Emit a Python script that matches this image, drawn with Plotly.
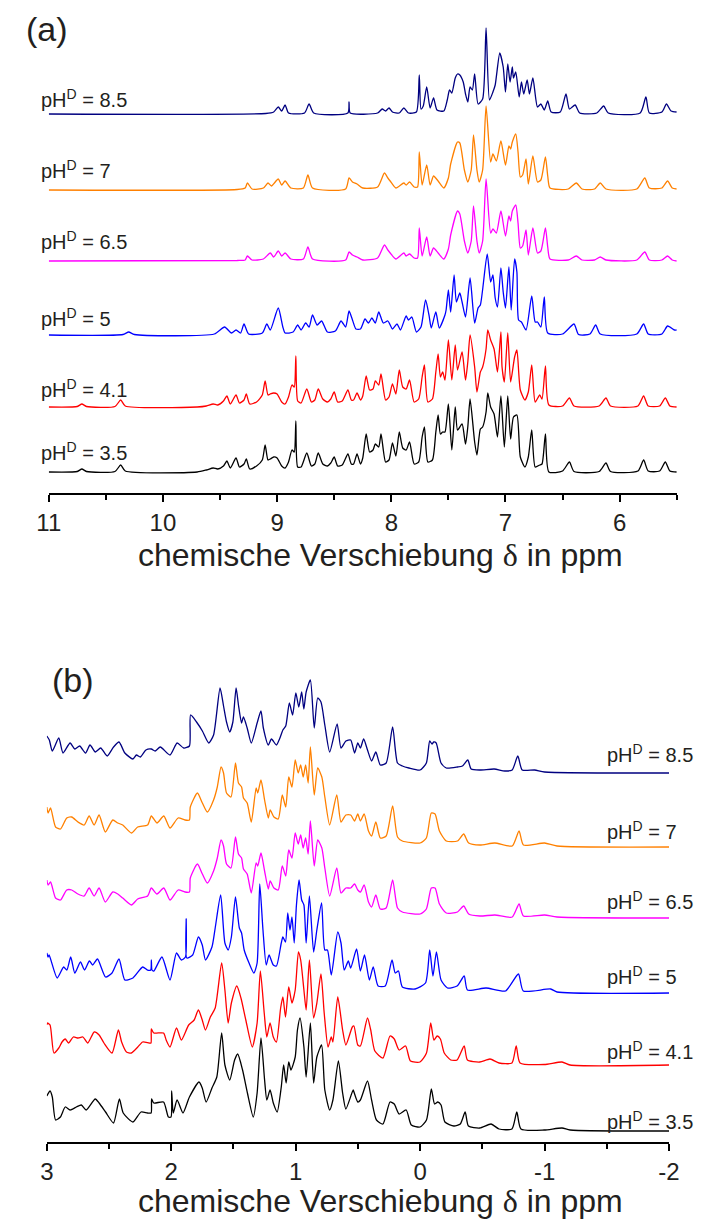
import plotly.graph_objects as go

W, H = 710, 1227
FONT = "Liberation Sans, Arial, sans-serif"
TXT = "#231f20"

# pH^D values of the six spectra (top to bottom)
ph_values = ["8.5", "7", "6.5", "5", "4.1", "3.5"]
colors = ["#000080", "#FF8000", "#FF00FF", "#0000FF", "#FF0000", "#000000"]

# tick values / labels of both ppm axes
ticks_a = [11, 10, 9, 8, 7, 6]
ticklabels_a = ["11", "10", "9", "8", "7", "6"]
ticks_b = [3, 2, 1, 0, -1, -2]
ticklabels_b = ["3", "2", "1", "0", "-1", "-2"]

# ---------- (a) aromatic region: (ppm, intensity) ----------
a_85 = [(11.0,0),(9.1,0.5),(9.03,2),(8.99,7),(8.96,3),(8.93,9),(8.90,1),(8.76,1),(8.72,10),(8.68,1),(8.38,1),(8.37,12),(8.36,1),
        (8.12,1),(8.08,5),(8.05,3),(8.02,6),(7.99,2),(7.93,1),(7.89,6),(7.85,1),(7.78,2),(7.755,39),(7.74,5),(7.72,8),(7.69,27),
        (7.66,6),(7.63,16),(7.60,4),(7.54,3),(7.51,14),(7.49,24),(7.47,21),(7.44,36),(7.42,40),(7.40,39),(7.37,32),(7.35,20),
        (7.33,12),(7.31,27),(7.29,24),(7.27,40),(7.24,10),(7.20,15),(7.17,86),(7.14,14),(7.11,22),(7.09,29),(7.05,61),(7.02,47),
        (7.00,22),(6.98,50),(6.96,32),(6.94,47),(6.93,36),(6.91,42),(6.88,17),(6.86,32),(6.84,20),(6.81,34),(6.79,20),(6.76,36),
        (6.72,7),(6.69,10),(6.66,4),(6.63,13),(6.60,2),(6.52,2),(6.47,20),(6.44,5),(6.39,9),(6.35,1),(6.2,1),(6.14,8),(6.10,1),
        (5.82,1),(5.77,17),(5.74,1),(5.63,2),(5.59,10),(5.55,3),(5.5,2)]
a_7 = [(11.0,0),(9.35,0.5),(9.28,2),(9.26,7),(9.22,1),(9.12,2),(9.08,7),(9.05,4),(8.99,11),(8.96,5),(8.93,9),(8.88,2),(8.77,2),
       (8.73,15),(8.69,2),(8.40,1),(8.37,12),(8.34,8),(8.30,6),(8.25,2),(8.12,3),(8.06,17),(8.03,12),(8.01,9),(7.96,2),(7.89,7),
       (7.87,5),(7.84,8),(7.80,3),(7.77,3),(7.755,38),(7.73,5),(7.69,25),(7.66,5),(7.63,14),(7.59,9),(7.54,2),(7.50,12),(7.48,26),
       (7.42,48),(7.40,47),(7.36,20),(7.33,8),(7.30,20),(7.28,55),(7.25,20),(7.23,8),(7.20,20),(7.17,84),(7.13,28),(7.11,36),
       (7.08,29),(7.04,49),(7.00,25),(6.97,44),(6.955,41),(6.94,48),(6.91,56),(6.89,38),(6.87,13),(6.85,15),(6.82,31),(6.80,6),
       (6.76,34),(6.72,8),(6.69,10),(6.65,33),(6.63,14),(6.61,2),(6.45,1),(6.38,7),(6.33,1),(6.22,1),(6.17,7),(6.12,1),(5.85,1),
       (5.78,12),(5.74,2),(5.63,2),(5.58,9),(5.54,2),(5.5,1)]
a_65 = [(11.0,0),(9.35,0.5),(9.28,1),(9.26,5),(9.22,1),(9.12,2),(9.06,8),(9.03,4),(8.99,10),(8.96,5),(8.93,8),(8.88,2),(8.77,2),
        (8.73,14),(8.69,2),(8.40,1),(8.37,9),(8.34,6),(8.30,4),(8.25,1),(8.12,3),(8.06,16),(8.03,11),(8.01,8),(7.96,2),(7.89,8),
        (7.87,5),(7.84,7),(7.80,3),(7.77,3),(7.755,33),(7.73,5),(7.69,24),(7.66,5),(7.63,13),(7.59,8),(7.54,2),(7.50,12),(7.48,26),
        (7.42,50),(7.40,47),(7.36,20),(7.33,8),(7.30,20),(7.28,55),(7.25,20),(7.23,8),(7.20,20),(7.17,82),(7.13,28),(7.11,32),
        (7.08,28),(7.04,50),(7.00,25),(6.97,45),(6.955,40),(6.94,50),(6.91,56),(6.89,38),(6.87,13),(6.85,15),(6.82,31),(6.80,6),
        (6.76,33),(6.72,8),(6.69,10),(6.65,33),(6.63,14),(6.61,2),(6.45,1),(6.38,5),(6.33,1),(6.22,1),(6.17,4),(6.12,1),(5.85,1),
        (5.78,9),(5.74,1),(5.63,1),(5.58,5),(5.54,1),(5.5,0)]
a_5 = [(11.0,0),(10.35,0.5),(10.30,3),(10.25,0.5),(9.55,1),(9.46,8),(9.40,2),(9.36,5),(9.32,2),(9.29,11),(9.25,1),(9.13,2),(9.09,11),
       (9.06,5),(8.99,27),(8.95,8),(8.93,2),(8.86,3),(8.82,10),(8.79,5),(8.75,12),(8.72,8),(8.69,20),(8.65,10),(8.61,14),(8.56,3),
       (8.49,4),(8.44,14),(8.40,8),(8.37,24),(8.34,15),(8.31,6),(8.27,6),(8.23,16),(8.20,12),(8.17,17),(8.14,12),(8.11,23),(8.07,12),
       (8.03,14),(7.99,6),(7.95,11),(7.92,5),(7.87,19),(7.85,15),(7.82,18),(7.78,3),(7.74,8),(7.70,35),(7.67,20),(7.65,7),(7.61,23),
       (7.58,7),(7.53,20),(7.52,25),(7.50,45),(7.48,23),(7.45,60),(7.43,33),(7.40,42),(7.38,33),(7.35,18),(7.31,57),(7.27,12),
       (7.24,27),(7.22,30),(7.16,81),(7.13,53),(7.11,60),(7.09,37),(7.07,28),(7.04,67),(7.02,43),(7.00,27),(6.97,68),(6.95,25),
       (6.92,76),(6.90,63),(6.885,15),(6.86,13),(6.82,5),(6.77,39),(6.74,13),(6.72,13),(6.69,8),(6.66,38),(6.63,2),(6.50,1),
       (6.40,11),(6.36,0.5),(6.26,1),(6.21,10),(6.17,1),(5.85,1),(5.79,11),(5.75,1),(5.63,1),(5.58,9),(5.52,5),(5.5,5)]
a_41 = [(11.0,0),(10.75,0.5),(10.71,3),(10.67,0.5),(10.42,0.5),(10.37,7),(10.33,1),(9.7,0),(9.62,1),(9.56,3),(9.52,2),(9.47,6),
        (9.44,11),(9.41,3),(9.36,12),(9.33,4),(9.29,7),(9.27,13),(9.24,3),(9.18,5),(9.13,12),(9.105,26),(9.08,12),(9.06,13),
        (9.03,14),(9.00,13),(8.96,5),(8.93,3),(8.90,10),(8.87,22),(8.85,20),(8.836,51),(8.82,6),(8.79,4),(8.74,18),(8.70,5),
        (8.67,7),(8.64,18),(8.60,8),(8.56,5),(8.53,8),(8.50,15),(8.47,5),(8.43,6),(8.38,17),(8.35,7),(8.33,7),(8.30,14),(8.27,7),
        (8.25,11),(8.22,31),(8.19,17),(8.16,18),(8.14,26),(8.11,22),(8.09,33),(8.05,7),(8.02,10),(7.99,23),(7.96,13),(7.93,37),
        (7.90,20),(7.87,18),(7.84,27),(7.80,5),(7.76,8),(7.73,30),(7.71,42),(7.68,5),(7.64,8),(7.61,35),(7.59,53),(7.57,30),
        (7.55,35),(7.53,27),(7.50,67),(7.47,27),(7.44,62),(7.42,37),(7.38,55),(7.35,27),(7.33,45),(7.31,72),(7.27,40),(7.25,15),
        (7.22,35),(7.20,40),(7.17,58),(7.155,77),(7.13,67),(7.10,58),(7.07,35),(7.04,75),(7.03,40),(7.01,25),(6.98,74),(6.955,25),
        (6.92,50),(6.90,57),(6.87,17),(6.83,7),(6.80,15),(6.77,42),(6.74,5),(6.70,12),(6.68,8),(6.65,41),(6.62,2),(6.50,1),
        (6.44,9),(6.40,1),(6.18,1),(6.12,9),(6.08,1),(5.84,1),(5.79,11),(5.75,1),(5.65,1),(5.60,9),(5.56,1),(5.5,0)]
a_35 = [(11.0,0),(10.75,0.5),(10.71,3),(10.67,0.5),(10.42,0.5),(10.37,7),(10.33,1),(9.7,0),(9.62,2),(9.56,4),(9.52,3),(9.47,6),
        (9.44,11),(9.41,4),(9.36,14),(9.33,5),(9.29,8),(9.27,13),(9.24,3),(9.18,6),(9.13,12),(9.105,27),(9.08,12),(9.06,13),
        (9.03,15),(9.00,14),(8.96,6),(8.93,4),(8.90,10),(8.87,22),(8.85,20),(8.836,51),(8.82,5),(8.79,5),(8.74,19),(8.70,6),
        (8.67,8),(8.64,19),(8.60,8),(8.56,6),(8.53,9),(8.50,15),(8.47,6),(8.43,7),(8.38,18),(8.35,8),(8.33,8),(8.30,18),(8.27,8),
        (8.25,14),(8.22,38),(8.19,20),(8.16,22),(8.14,28),(8.11,25),(8.09,38),(8.05,10),(8.02,12),(7.99,29),(7.96,16),(7.93,40),
        (7.90,24),(7.87,22),(7.84,30),(7.80,8),(7.76,10),(7.73,35),(7.71,45),(7.68,10),(7.64,12),(7.61,40),(7.59,57),(7.57,38),
        (7.55,40),(7.53,40),(7.50,68),(7.47,22),(7.44,65),(7.42,42),(7.38,48),(7.35,28),(7.33,45),(7.31,73),(7.27,30),(7.25,17),
        (7.22,43),(7.20,45),(7.17,60),(7.155,79),(7.13,65),(7.10,58),(7.07,35),(7.04,76),(7.01,25),(6.98,76),(6.955,33),(6.93,55),
        (6.90,57),(6.87,15),(6.83,5),(6.80,15),(6.77,42),(6.74,5),(6.70,7),(6.68,8),(6.65,38),(6.62,0),(6.50,1),(6.44,10),
        (6.40,0.5),(6.18,0.5),(6.12,9),(6.08,0.5),(5.84,1),(5.79,12),(5.75,1),(5.65,1),(5.60,10),(5.56,1),(5.5,0)]

# ---------- (b) aliphatic region: (ppm, intensity) ----------
b_85 = [(3.0,37),(2.98,33),(2.956,22),(2.904,35),(2.87,20),(2.813,30),(2.775,24),(2.736,27),(2.689,20),(2.653,28),(2.61,21),
        (2.567,25),(2.515,17),(2.464,26),(2.42,31),(2.373,20),(2.308,14),(2.28,18),(2.248,16),(2.204,23),(2.16,24),(2.13,22),
        (2.088,26),(2.01,18),(1.953,30),(1.90,25),(1.854,27),(1.845,58),(1.797,51),(1.75,42),(1.699,30),(1.66,38),(1.608,85),
        (1.58,67),(1.556,51),(1.53,41),(1.505,51),(1.479,85),(1.46,68),(1.435,50),(1.42,56),(1.39,45),(1.357,30),(1.31,50),
        (1.279,62),(1.26,45),(1.22,28),(1.195,34),(1.155,28),(1.13,34),(1.103,43),(1.08,47),(1.051,70),(1.025,58),(0.999,80),
        (0.975,66),(0.952,81),(0.935,64),(0.916,81),(0.882,93),(0.851,45),(0.823,75),(0.797,71),(0.766,48),(0.727,21),(0.667,49),
        (0.636,25),(0.597,32),(0.558,33),(0.527,20),(0.501,30),(0.48,25),(0.454,34),(0.423,23),(0.39,12),(0.356,21),(0.32,8),
        (0.273,10),(0.221,46),(0.182,10),(0.143,7),(0.09,5),(0.0,3),(-0.05,10),(-0.077,32),(-0.095,29),(-0.11,31),(-0.129,30),
        (-0.168,10),(-0.21,5),(-0.3,6),(-0.34,7),(-0.383,13),(-0.41,4),(-0.48,3),(-0.595,4),(-0.68,2),(-0.74,3),(-0.785,17),
        (-0.82,3),(-0.92,3),(-1.0,1),(-2.0,0)]
b_7 = [(3.0,40),(2.99,34),(2.97,39),(2.93,20),(2.89,18),(2.84,29),(2.80,30),(2.75,25),(2.70,22),(2.66,31),(2.62,22),(2.58,32),
       (2.53,15),(2.47,27),(2.43,24),(2.39,22),(2.32,14),(2.27,20),(2.19,22),(2.16,31),(2.115,24),(2.06,31),(2.01,19),(1.945,29),
       (1.89,27),(1.854,27),(1.847,40),(1.79,54),(1.75,44),(1.71,35),(1.66,47),(1.63,60),(1.60,80),(1.58,74),(1.556,54),(1.52,50),
       (1.484,84),(1.46,64),(1.435,60),(1.42,49),(1.39,44),(1.357,25),(1.318,59),(1.305,54),(1.279,67),(1.25,47),(1.22,29),
       (1.205,37),(1.175,30),(1.14,28),(1.108,52),(1.08,40),(1.056,70),(1.03,60),(1.004,87),(0.98,74),(0.96,82),(0.94,70),
       (0.92,82),(0.90,64),(0.882,100),(0.851,52),(0.823,79),(0.79,70),(0.766,50),(0.727,22),(0.67,52),(0.636,25),(0.597,32),
       (0.558,32),(0.527,26),(0.501,33),(0.48,26),(0.45,33),(0.415,16),(0.39,11),(0.356,25),(0.32,9),(0.273,11),(0.221,41),
       (0.182,10),(0.143,6),(0.0,4),(-0.05,9),(-0.09,34),(-0.12,33),(-0.155,16),(-0.21,6),(-0.30,6),(-0.35,13),(-0.39,4),
       (-0.48,2),(-0.60,4),(-0.74,1),(-0.795,16),(-0.83,2),(-1.0,4),(-1.1,1),(-2.0,0)]
b_65 = [(3.0,38),(2.99,33),(2.97,36),(2.93,20),(2.89,18),(2.84,28),(2.80,28),(2.75,24),(2.70,22),(2.66,30),(2.62,22),(2.58,30),
        (2.53,16),(2.47,26),(2.43,24),(2.39,20),(2.32,13),(2.27,19),(2.19,22),(2.16,30),(2.115,24),(2.06,30),(2.01,18),(1.945,28),
        (1.89,26),(1.854,26),(1.847,40),(1.79,54),(1.75,44),(1.71,35),(1.66,47),(1.63,60),(1.60,78),(1.58,72),(1.556,54),(1.52,50),
        (1.484,81),(1.46,64),(1.435,60),(1.42,49),(1.39,44),(1.357,25),(1.318,55),(1.305,52),(1.279,65),(1.25,47),(1.22,29),
        (1.205,37),(1.175,30),(1.14,28),(1.108,52),(1.08,42),(1.056,68),(1.03,60),(1.004,85),(0.98,74),(0.96,83),(0.94,70),
        (0.92,80),(0.90,64),(0.882,97),(0.851,52),(0.823,78),(0.79,70),(0.766,50),(0.727,22),(0.67,50),(0.636,25),(0.597,30),
        (0.558,30),(0.527,34),(0.501,28),(0.48,26),(0.45,33),(0.415,16),(0.39,11),(0.356,23),(0.32,9),(0.273,10),(0.221,38),
        (0.182,10),(0.143,6),(0.0,4),(-0.05,9),(-0.09,30),(-0.12,30),(-0.155,14),(-0.21,5),(-0.30,6),(-0.35,12),(-0.39,4),
        (-0.48,2),(-0.60,3),(-0.74,1),(-0.795,14),(-0.83,2),(-1.0,3),(-1.1,1),(-2.0,0)]
b_5 = [(3.0,40),(2.99,36),(2.982,38),(2.917,15),(2.865,26),(2.839,23),(2.808,36),(2.775,20),(2.73,31),(2.697,23),(2.658,32),
       (2.632,28),(2.593,34),(2.528,16),(2.476,20),(2.42,34),(2.373,13),(2.308,15),(2.23,26),(2.191,23),(2.165,23),(2.16,33),
       (2.155,23),(2.14,22),(2.075,36),(2.01,13),(1.958,40),(1.919,33),(1.886,36),(1.88,74),(1.875,35),(1.828,38),(1.782,56),
       (1.751,48),(1.725,33),(1.673,46),(1.647,65),(1.603,98),(1.569,50),(1.543,43),(1.517,56),(1.484,96),(1.453,65),(1.435,60),
       (1.414,43),(1.375,30),(1.336,20),(1.31,30),(1.289,109),(1.263,63),(1.237,28),(1.214,38),(1.18,28),(1.155,27),(1.116,50),
       (1.103,56),(1.082,51),(1.064,80),(1.046,63),(1.03,76),(1.012,50),(0.994,88),(0.973,113),(0.952,93),(0.934,88),(0.916,50),
       (0.89,97),(0.856,41),(0.83,63),(0.792,90),(0.766,43),(0.745,43),(0.714,18),(0.662,61),(0.636,50),(0.61,23),(0.577,32),
       (0.558,25),(0.511,44),(0.48,22),(0.447,38),(0.408,13),(0.377,26),(0.338,7),(0.28,7),(0.226,33),(0.2,20),(0.174,22),
       (0.143,6),(0.04,4),(-0.043,10),(-0.077,43),(-0.103,17),(-0.131,41),(-0.168,13),(-0.22,5),(-0.297,7),(-0.354,17),
       (-0.38,3),(-0.53,5),(-0.686,2),(-0.79,19),(-0.829,2),(-1.049,4),(-1.1,1),(-2.0,0)]
b_41 = [(3.0,40),(2.995,42),(2.974,40),(2.943,12),(2.904,17),(2.878,23),(2.852,26),(2.826,22),(2.787,28),(2.749,27),(2.71,28),
        (2.671,22),(2.619,33),(2.58,30),(2.541,22),(2.476,12),(2.425,35),(2.399,23),(2.36,13),(2.321,12),(2.269,18),(2.23,23),
        (2.178,22),(2.163,22),(2.16,36),(2.14,32),(2.062,32),(2.041,25),(2.01,18),(1.958,37),(1.919,25),(1.86,40),(1.816,45),
        (1.782,55),(1.751,45),(1.725,35),(1.686,48),(1.647,57),(1.595,102),(1.569,75),(1.543,42),(1.517,62),(1.473,79),(1.44,67),
        (1.401,45),(1.349,18),(1.31,42),(1.284,94),(1.253,52),(1.232,28),(1.206,42),(1.18,28),(1.155,23),(1.121,57),(1.103,68),
        (1.082,48),(1.056,78),(1.03,62),(1.004,75),(0.978,113),(0.96,105),(0.934,75),(0.916,55),(0.89,105),(0.856,47),(0.83,62),
        (0.797,91),(0.771,52),(0.74,18),(0.714,28),(0.701,23),(0.662,68),(0.623,35),(0.597,20),(0.545,38),(0.532,39),(0.501,20),
        (0.48,19),(0.423,47),(0.397,35),(0.364,14),(0.299,7),(0.242,29),(0.208,26),(0.169,15),(0.117,19),(0.078,4),(0.001,3),
        (-0.051,12),(-0.085,42),(-0.111,25),(-0.137,29),(-0.163,26),(-0.194,12),(-0.246,5),(-0.297,5),(-0.354,19),(-0.38,5),
        (-0.479,3),(-0.562,6),(-0.634,2),(-0.738,2),(-0.772,19),(-0.803,2),(-0.997,0.5),(-1.14,3),(-1.205,0),(-2.0,0)]
b_35 = [(3.0,35),(2.974,40),(2.956,34),(2.93,11),(2.891,14),(2.852,24),(2.813,21),(2.762,24),(2.723,26),(2.684,21),(2.611,32),
        (2.58,28),(2.528,19),(2.464,8),(2.417,32),(2.386,18),(2.308,9),(2.243,19),(2.191,18),(2.162,18),(2.158,32),(2.14,28),
        (2.062,29),(2.023,14),(2.002,14),(1.997,40),(1.984,18),(1.953,31),(1.906,18),(1.854,34),(1.777,49),(1.751,43),(1.72,29),
        (1.673,43),(1.634,54),(1.595,98),(1.569,66),(1.53,51),(1.491,71),(1.466,77),(1.427,61),(1.388,38),(1.341,14),(1.31,38),
        (1.279,93),(1.25,51),(1.232,31),(1.206,41),(1.18,28),(1.149,19),(1.116,44),(1.097,66),(1.077,48),(1.056,69),(1.038,61),
        (1.004,74),(0.986,101),(0.965,113),(0.934,84),(0.916,54),(0.882,108),(0.856,48),(0.83,74),(0.792,86),(0.766,41),
        (0.727,21),(0.701,31),(0.657,70),(0.623,38),(0.597,22),(0.538,41),(0.532,39),(0.501,29),(0.48,31),(0.423,50),(0.39,31),
        (0.351,11),(0.299,7),(0.242,29),(0.208,27),(0.169,17),(0.112,21),(0.071,6),(0.001,4),(-0.051,11),(-0.09,42),(-0.116,27),
        (-0.142,29),(-0.168,26),(-0.199,9),(-0.271,5),(-0.323,7),(-0.362,19),(-0.388,5),(-0.479,3),(-0.57,7),(-0.634,2),
        (-0.738,2),(-0.777,19),(-0.81,2),(-0.997,1),(-1.14,3),(-1.205,1),(-2.0,0)]

spectra_a = [a_85, a_7, a_65, a_5, a_41, a_35]
spectra_b = [b_85, b_7, b_65, b_5, b_41, b_35]

# vertical stacking offsets of each spectrum (intensity units)
offsets_a = [379, 303, 232, 158, 86, 21]
offsets_b = [369, 295, 224, 149, 77, 11]

fig = go.Figure()
for spectra, offsets, xa, ya in ((spectra_a, offsets_a, "x", "y"), (spectra_b, offsets_b, "x2", "y2")):
    for pts, off, col in zip(spectra, offsets, colors):
        fig.add_trace(go.Scatter(
            x=[p for p, _ in pts], y=[off + v for _, v in pts],
            mode="lines", line=dict(color=col, width=1.3, shape="spline", smoothing=0.6),
            xaxis=xa, yaxis=ya, showlegend=False, hoverinfo="skip"))

def xax(domain, rng, tv, tt):
    return dict(domain=domain, range=rng, showline=True, linecolor="black", linewidth=1.5,
                ticks="outside", ticklen=7, tickwidth=1.5, tickcolor="black",
                tickmode="array", tickvals=tv, ticktext=tt, showgrid=False, zeroline=False,
                minor=dict(tick0=0, dtick=0.5, ticks="outside", ticklen=5, tickwidth=1.5, tickcolor="black"),
                tickfont=dict(family=FONT, size=24, color=TXT))

yhidden = dict(visible=False, showgrid=False, zeroline=False)

def py(p):
    return 1 - p / H

annotations = []
# panel letters
annotations.append(dict(text="(a)", x=12 / W, y=py(29), xref="paper", yref="paper",
                        xanchor="left", yanchor="middle", showarrow=False,
                        font=dict(family=FONT, size=34, color=TXT)))
annotations.append(dict(text="(b)", x=39 / W, y=py(680), xref="paper", yref="paper",
                        xanchor="left", yanchor="middle", showarrow=False,
                        font=dict(family=FONT, size=34, color=TXT)))
# axis titles
title = "chemische Verschiebung <span style=\"font-family:'Liberation Serif'\">δ</span> in ppm"
for yy in (555, 1201):
    annotations.append(dict(text=title, x=381 / W, y=py(yy), xref="paper", yref="paper",
                            xanchor="center", yanchor="middle", showarrow=False,
                            font=dict(family=FONT, size=32, color=TXT)))
# pH labels
label_y_a = [98, 170, 241, 317, 388, 452]
label_y_b = [753, 830, 900, 975, 1050, 1120]
for ph, ya_, yb_ in zip(ph_values, label_y_a, label_y_b):
    txt = f"pH<sup>D</sup> = {ph}"
    annotations.append(dict(text=txt, x=28 / W, y=py(ya_), xref="paper", yref="paper",
                            xanchor="left", yanchor="middle", showarrow=False,
                            font=dict(family=FONT, size=20, color=TXT)))
    annotations.append(dict(text=txt, x=613 / W, y=py(yb_), xref="paper", yref="paper",
                            xanchor="left", yanchor="middle", showarrow=False,
                            font=dict(family=FONT, size=20, color=TXT)))

fig.update_layout(
    width=W, height=H, margin=dict(l=0, r=0, t=0, b=0),
    paper_bgcolor="white", plot_bgcolor="white",
    xaxis=dict(**xax([38 / W, 687 / W], [11, 5.5], ticks_a, ticklabels_a), anchor="y"),
    yaxis=dict(**yhidden, domain=[py(493), py(20)], range=[0, 473]),
    xaxis2=dict(**xax([36 / W, 679 / W], [3, -2], ticks_b, ticklabels_b), anchor="y2"),
    yaxis2=dict(**yhidden, domain=[py(1142), py(660)], range=[0, 482]),
    annotations=annotations,
)

fig.write_html("out.html")
